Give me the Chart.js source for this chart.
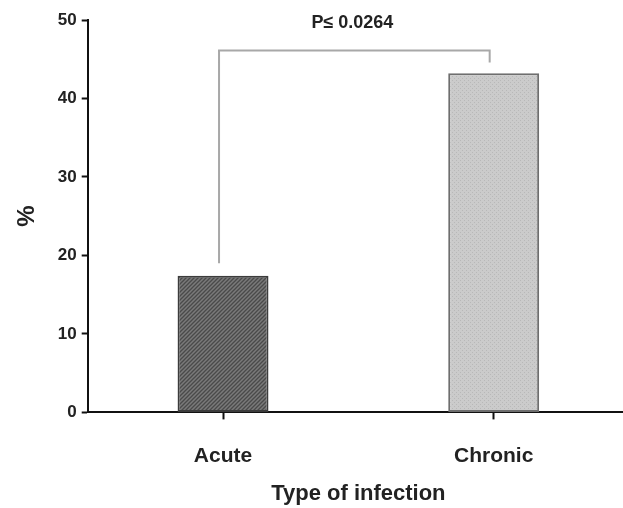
<!DOCTYPE html>
<html>
<head>
<meta charset="utf-8">
<script src="https://cdn.jsdelivr.net/npm/chart.js@4.4.1/dist/chart.umd.min.js"></script>
<style>
  html, body { margin: 0; padding: 0; background: #ffffff; overflow: hidden; }
  #wrap { width: 623px; height: 508px; overflow: hidden; }
</style>
</head>
<body>
<div id="wrap"><canvas id="chart" width="629" height="508"></canvas></div>
<script>
// Percentage by type of infection
const categories = ["Acute", "Chronic"];
const percentValues = [17.4, 43.2];
const yTicks = [0, 10, 20, 30, 40, 50];
const pLabel = "P\u2264 0.0264";
// bracket: horizontal level and the value each leg drops to
const bracketLevel = 46.1;
const bracketLegEnds = [19.0, 44.6];

const FONT = "'Liberation Sans', Arial, sans-serif";

function hatchPattern() {
  const c = document.createElement("canvas");
  c.width = 4; c.height = 4;
  const g = c.getContext("2d");
  g.fillStyle = "#7a7a7a";
  g.fillRect(0, 0, 4, 4);
  g.strokeStyle = "#4a4a4a";
  g.lineWidth = 1.3;
  g.beginPath();
  g.moveTo(-1, 5); g.lineTo(5, -1);
  g.moveTo(-1, 1); g.lineTo(1, -1);
  g.moveTo(3, 5); g.lineTo(5, 3);
  g.stroke();
  return g.createPattern(c, "repeat");
}

function dotPattern() {
  const c = document.createElement("canvas");
  c.width = 4; c.height = 4;
  const g = c.getContext("2d");
  g.fillStyle = "#cbcbcb";
  g.fillRect(0, 0, 4, 4);
  g.fillStyle = "#b8b8b8";
  g.fillRect(0, 0, 1, 1);
  g.fillRect(2, 2, 1, 1);
  return g.createPattern(c, "repeat");
}

const bracketPlugin = {
  id: "sigBracket",
  afterDatasetsDraw(chart) {
    const { ctx, scales } = chart;
    const xs = scales.x, ys = scales.y;
    const x1 = xs.getPixelForValue(0) - 4;
    const x2 = xs.getPixelForValue(1) - 4;
    const yTop = ys.getPixelForValue(bracketLevel);
    ctx.save();
    ctx.strokeStyle = "#a8a8a8";
    ctx.lineWidth = 2;
    ctx.beginPath();
    ctx.moveTo(x1, ys.getPixelForValue(bracketLegEnds[0]));
    ctx.lineTo(x1, yTop);
    ctx.lineTo(x2, yTop);
    ctx.lineTo(x2, ys.getPixelForValue(bracketLegEnds[1]));
    ctx.stroke();
    ctx.fillStyle = "#222";
    ctx.font = "bold 18px " + FONT;
    ctx.textAlign = "center";
    ctx.textBaseline = "middle";
    ctx.fillText(pLabel, (x1 + x2) / 2 - 2, 23);
    ctx.restore();
  }
};

new Chart(document.getElementById("chart"), {
  type: "bar",
  data: {
    labels: categories,
    datasets: [{
      data: percentValues,
      backgroundColor: [hatchPattern(), dotPattern()],
      borderColor: ["#3c3c3c", "#6e6e6e"],
      borderWidth: 2,
      borderSkipped: false,
      barPercentage: 0.336,
      categoryPercentage: 1.0
    }]
  },
  options: {
    responsive: false,
    animation: false,
    layout: { padding: { top: 20, right: 0, bottom: 1, left: 13 } },
    plugins: {
      legend: { display: false },
      tooltip: { enabled: false }
    },
    scales: {
      x: {
        offset: true,
        grid: {
          offset: false,
          drawOnChartArea: false,
          drawTicks: true,
          tickLength: 7,
          tickWidth: 2,
          tickColor: "#111"
        },
        border: { display: true, color: "#111", width: 2 },
        ticks: {
          color: "#222",
          padding: 24,
          font: { family: FONT, size: 21, weight: "bold" }
        },
        title: {
          display: true,
          text: "Type of infection",
          color: "#222",
          padding: { top: -12, bottom: 0 },
          font: { family: FONT, size: 22, weight: "bold" }
        }
      },
      y: {
        min: 0,
        max: 50,
        afterBuildTicks(scale) { scale.ticks = yTicks.map(v => ({ value: v })); },
        grid: {
          drawOnChartArea: false,
          drawTicks: true,
          tickLength: 6,
          tickWidth: 2,
          tickColor: "#111"
        },
        border: { display: true, color: "#111", width: 2 },
        ticks: {
          color: "#222",
          padding: 5,
          font: { family: FONT, size: 17, weight: "bold" }
        },
        title: {
          display: true,
          text: "%",
          color: "#222",
          padding: { top: 0, bottom: 11 },
          font: { family: FONT, size: 24, weight: "bold" }
        }
      }
    }
  },
  plugins: [bracketPlugin]
});
</script>
</body>
</html>
